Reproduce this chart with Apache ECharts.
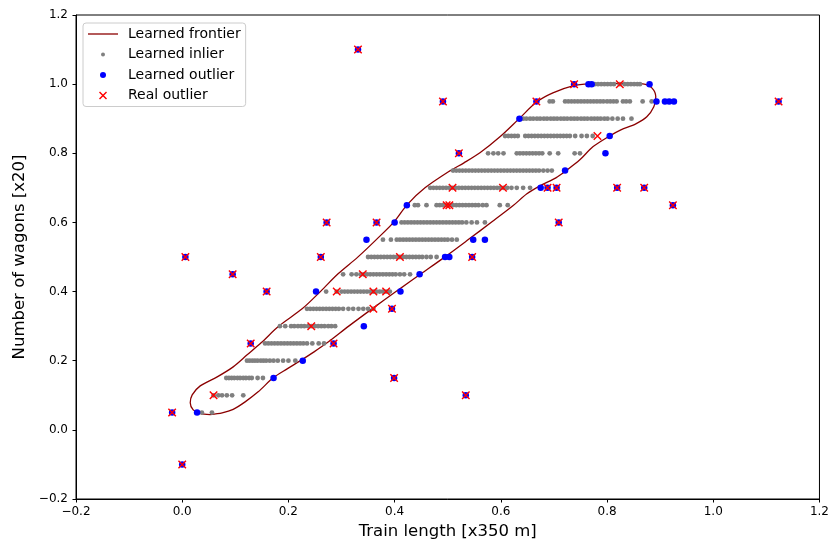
<!DOCTYPE html>
<html><head><meta charset="utf-8">
<script src="https://cdn.jsdelivr.net/npm/echarts@6/dist/echarts.min.js"></script>
<style>html,body{margin:0;padding:0;background:#fff}#c{width:832px;height:545px}</style>
</head><body><div id="c"></div>
<script>
// ---- data ----
const xTickValues = [-0.2, 0.0, 0.2, 0.4, 0.6, 0.8, 1.0, 1.2];
const yTickValues = [-0.2, 0.0, 0.2, 0.4, 0.6, 0.8, 1.0, 1.2];
const seriesNames = ['Learned frontier', 'Learned inlier', 'Learned outlier', 'Real outlier'];

const frontierX = [0.0527,0.0753,0.0960,0.1185,0.1430,0.1712,0.1976,0.2220,0.2483,0.2728,0.3142,0.3575,0.4045,0.4497,0.4948,0.5381,0.5833,0.6227,0.6491,0.6736,0.7037,0.7225,0.7488,0.7733,0.8053,0.8260,0.8542,0.8749,0.8881,0.8918,0.8843,0.8674,0.8241,0.7676,0.7356,0.6980,0.6679,0.6341,0.5983,0.5607,0.5306,0.5042,0.4572,0.4233,0.3989,0.3650,0.3311,0.2935,0.2615,0.2258,0.1825,0.1486,0.1223,0.0960,0.0659,0.0339,0.0188,0.0151,0.0207,0.0339,0.0527];
const frontierY = [0.0443,0.0492,0.0593,0.0810,0.1099,0.1504,0.1765,0.1996,0.2256,0.2517,0.3008,0.3500,0.4021,0.4513,0.5004,0.5496,0.6017,0.6480,0.6827,0.7058,0.7290,0.7492,0.7810,0.8186,0.8504,0.8678,0.8852,0.9054,0.9343,0.9633,0.9893,1.0009,1.0023,1.0009,0.9951,0.9749,0.9488,0.8996,0.8476,0.8013,0.7723,0.7492,0.7000,0.6509,0.6017,0.5496,0.5004,0.4513,0.4021,0.3500,0.3008,0.2517,0.2170,0.1822,0.1533,0.1273,0.1012,0.0781,0.0579,0.0477,0.0443];

const inlierRowY = [0.05,0.10,0.15,0.20,0.25,0.30,0.35,0.40,0.45,0.50,0.55,0.60,0.65,0.70,0.75,0.80,0.85,0.90,0.95,1.00];
const inlierRowX = [
  [0.037,0.056],
  [0.059,0.068,0.075,0.084,0.094,0.115],
  [0.083,0.088,0.093,0.098,0.104,0.109,0.115,0.120,0.126,0.131,0.142,0.152],
  [0.122,0.127,0.132,0.137,0.142,0.148,0.153,0.158,0.165,0.172,0.180,0.190,0.200,0.213],
  [0.156,0.162,0.168,0.174,0.180,0.186,0.192,0.198,0.204,0.210,0.216,0.222,0.228,0.235,0.245,0.257,0.267],
  [0.184,0.194,0.205,0.211,0.218,0.224,0.230,0.237,0.243,0.250,0.256,0.262,0.268,0.275,0.281,0.288],
  [0.235,0.241,0.247,0.253,0.259,0.265,0.271,0.277,0.283,0.289,0.295,0.303,0.313,0.322,0.332,0.341,0.350,0.360],
  [0.271,0.291,0.300,0.306,0.312,0.318,0.324,0.330,0.336,0.342,0.348,0.354,0.360,0.366,0.372,0.378,0.384,0.391],
  [0.303,0.319,0.328,0.336,0.342,0.348,0.354,0.360,0.366,0.372,0.378,0.384,0.390,0.396,0.402,0.410,0.418,0.429],
  [0.350,0.356,0.362,0.368,0.374,0.380,0.386,0.392,0.398,0.404,0.410,0.416,0.422,0.428,0.434,0.440,0.446,0.452,0.460,0.468,0.479],
  [0.378,0.393,0.404,0.410,0.416,0.422,0.428,0.434,0.440,0.446,0.452,0.458,0.464,0.470,0.476,0.482,0.488,0.494,0.500,0.508,0.517],
  [0.413,0.419,0.425,0.431,0.437,0.443,0.449,0.455,0.461,0.467,0.473,0.479,0.485,0.491,0.497,0.503,0.509,0.515,0.521,0.527,0.535,0.545,0.555,0.570],
  [0.438,0.444,0.460,0.479,0.485,0.491,0.498,0.503,0.510,0.516,0.522,0.528,0.534,0.540,0.546,0.552,0.558,0.566,0.573,0.598,0.613],
  [0.467,0.473,0.479,0.485,0.491,0.497,0.503,0.509,0.515,0.521,0.527,0.533,0.539,0.545,0.551,0.557,0.563,0.569,0.575,0.581,0.587,0.593,0.599,0.605,0.612,0.620,0.630,0.642,0.655],
  [0.510,0.516,0.522,0.528,0.534,0.540,0.546,0.552,0.558,0.564,0.570,0.576,0.582,0.588,0.594,0.600,0.606,0.612,0.618,0.624,0.630,0.636,0.642,0.648,0.654,0.660,0.666,0.672,0.680,0.688,0.696],
  [0.576,0.586,0.595,0.605,0.630,0.636,0.642,0.648,0.654,0.660,0.666,0.672,0.678,0.692,0.708,0.739,0.749],
  [0.608,0.614,0.620,0.626,0.632,0.646,0.652,0.658,0.664,0.670,0.676,0.682,0.688,0.694,0.700,0.706,0.712,0.718,0.724,0.730,0.740,0.752,0.762,0.773],
  [0.642,0.648,0.655,0.661,0.668,0.674,0.681,0.687,0.694,0.700,0.706,0.713,0.719,0.725,0.732,0.738,0.744,0.751,0.757,0.763,0.770,0.776,0.782,0.788,0.795,0.801,0.810,0.820,0.830,0.846],
  [0.692,0.698,0.721,0.727,0.733,0.739,0.745,0.751,0.757,0.763,0.769,0.775,0.781,0.787,0.793,0.800,0.806,0.812,0.818,0.830,0.836,0.843,0.867,0.884],
  [0.777,0.783,0.789,0.795,0.801,0.807,0.813,0.824,0.833,0.839,0.845,0.851,0.857,0.862]
];

const learnedOutliers = [
  [-0.019,0.05],[0.000,-0.10],[0.006,0.50],[0.095,0.45],[0.159,0.40],[0.129,0.25],[0.285,0.25],[0.261,0.50],
  [0.272,0.60],[0.366,0.60],[0.331,1.10],[0.395,0.35],[0.399,0.15],[0.534,0.10],[0.546,0.50],[0.709,0.60],
  [0.521,0.80],[0.491,0.95],[0.667,0.95],[0.738,1.00],[0.688,0.70],[0.705,0.70],[0.819,0.70],[0.870,0.70],
  [0.924,0.65],[1.123,0.95],
  [0.028,0.05],[0.172,0.15],[0.227,0.20],[0.342,0.30],[0.252,0.40],[0.411,0.40],[0.447,0.45],[0.495,0.50],
  [0.503,0.50],[0.347,0.55],[0.548,0.55],[0.570,0.55],[0.400,0.60],[0.423,0.65],[0.675,0.70],[0.721,0.75],
  [0.797,0.80],[0.805,0.85],[0.635,0.90],[0.893,0.95],[0.909,0.95],[0.917,0.95],[0.926,0.95],[0.765,1.00],
  [0.771,1.00],[0.880,1.00]
];

const realOutliers = [
  [-0.019,0.05],[0.000,-0.10],[0.006,0.50],[0.095,0.45],[0.159,0.40],[0.129,0.25],[0.285,0.25],[0.261,0.50],
  [0.272,0.60],[0.366,0.60],[0.331,1.10],[0.395,0.35],[0.399,0.15],[0.534,0.10],[0.546,0.50],[0.709,0.60],
  [0.521,0.80],[0.491,0.95],[0.667,0.95],[0.738,1.00],[0.688,0.70],[0.705,0.70],[0.819,0.70],[0.870,0.70],
  [0.924,0.65],[1.123,0.95],
  [0.059,0.10],[0.243,0.30],[0.360,0.35],[0.291,0.40],[0.360,0.40],[0.384,0.40],[0.340,0.45],[0.410,0.50],
  [0.498,0.65],[0.503,0.65],[0.509,0.70],[0.604,0.70],[0.782,0.85],[0.824,1.00]
];

// ---- build ----
const frontierData = frontierX.map((x, i) => [x, frontierY[i]]);
const inlierData = [];
inlierRowX.forEach((row, i) => row.forEach(x => inlierData.push([x, inlierRowY[i]])));

const FONT = 'DejaVu Sans';
const X_PATH = 'path://M-0.67,0.67L0.67,-0.67L10.67,9.33L9.33,10.67Z M9.33,-0.67L10.67,0.67L0.67,10.67L-0.67,9.33Z';
const fmt = v => (Math.round(v * 10) / 10).toFixed(1).replace('-', '\u2212');

const chart = echarts.init(document.getElementById('c'), null, {renderer: 'canvas'});
chart.setOption({
  animation: false,
  backgroundColor: '#fff',
  grid: {left: 76, right: 12, top: 15, bottom: 46, show: true, borderColor: '#000', borderWidth: 1},
  legend: {
    orient: 'vertical', left: 83, top: 23,
    padding: [4, 5, 4, 5], itemWidth: 30, itemHeight: 14, itemGap: 6.5,
    borderColor: '#cccccc', borderWidth: 1, borderRadius: 3,
    backgroundColor: 'rgba(255,255,255,0.8)',
    textStyle: {fontFamily: FONT, fontSize: 14, color: '#000', padding: [0, 0, 0, 5]},
    data: [
      {name: seriesNames[0], icon: 'path://M0,0L30,0L30,1.3L0,1.3Z', itemStyle: {color: '#8b0000'}},
      {name: seriesNames[1], icon: 'path://M0,0M14,14M5,7a2,2 0 1,0 4,0a2,2 0 1,0 -4,0'},
      {name: seriesNames[2], icon: 'path://M0,0M14,14M4,7a3,3 0 1,0 6,0a3,3 0 1,0 -6,0'},
      {name: seriesNames[3], icon: 'path://M0,0M14,14M3,4L4,3L11,10L10,11Z M10,3L11,4L4,11L3,10Z'}
    ]
  },
  xAxis: {
    type: 'value', min: xTickValues[0], max: xTickValues[xTickValues.length - 1], interval: 0.2,
    name: 'Train length [x350 m]', nameLocation: 'middle', nameGap: 24,
    nameTextStyle: {fontFamily: FONT, fontSize: 16.5, color: '#000'},
    axisLine: {onZero: false, lineStyle: {color: '#000', width: 1}},
    axisTick: {inside: false, length: 3.5, lineStyle: {color: '#000'}},
    axisLabel: {fontFamily: FONT, fontSize: 12, color: '#000', margin: 7, formatter: fmt},
    splitLine: {show: false}
  },
  yAxis: {
    type: 'value', min: yTickValues[0], max: yTickValues[yTickValues.length - 1], interval: 0.2,
    name: 'Number of wagons [x20]', nameLocation: 'middle', nameGap: 36,
    nameTextStyle: {fontFamily: FONT, fontSize: 16.5, color: '#000'},
    axisLine: {onZero: false, lineStyle: {color: '#000', width: 1}},
    axisTick: {inside: false, length: 3.5, lineStyle: {color: '#000'}},
    axisLabel: {fontFamily: FONT, fontSize: 12, color: '#000', margin: 8, formatter: fmt},
    splitLine: {show: false}
  },
  series: [
    {name: seriesNames[0], type: 'line', data: frontierData, symbol: 'none', showSymbol: false,
     smooth: 0.3, z: 1, color: '#8b0000', lineStyle: {color: '#8b0000', width: 1.3}},
    {name: seriesNames[1], type: 'scatter', data: inlierData, symbol: 'circle', symbolSize: 4.8, z: 2,
     itemStyle: {color: '#808080', opacity: 1}},
    {name: seriesNames[2], type: 'scatter', data: learnedOutliers, symbol: 'circle', symbolSize: 6.5, z: 3,
     itemStyle: {color: '#0000ff', opacity: 1}},
    {name: seriesNames[3], type: 'scatter', data: realOutliers, symbol: X_PATH, symbolSize: 8.5, z: 4,
     itemStyle: {color: '#ff0000', opacity: 1}}
  ]
});
</script></body></html>
